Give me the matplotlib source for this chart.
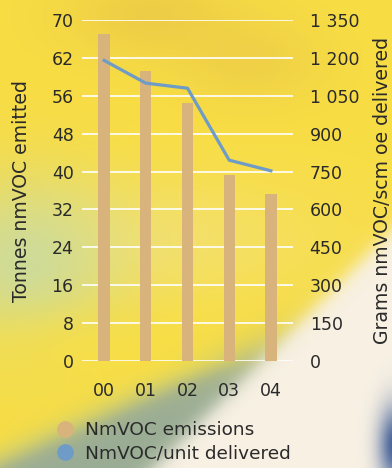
import numpy as np
import matplotlib
matplotlib.use('Agg')
import matplotlib.pyplot as plt
from matplotlib.lines import Line2D

# data
years = ['00', '01', '02', '03', '04']
emissions = [67.0, 60.0, 54.4, 39.3, 35.3]          # tonnes nmVOC
per_unit = [1190, 1100, 1080, 795, 753]              # grams nmVOC / scm oe
left_ticks = [0, 8, 16, 24, 32, 40, 48, 56, 62, 70]
right_ticks = [0, 150, 300, 450, 600, 750, 900, 1050, 1200, 1350]

bar_color = '#D8B37C'
line_color = '#6F9CC6'
text_color = '#2A2A2A'

W, H = 392, 468


def hex_rgb(h):
    h = h.lstrip('#')
    return np.array([int(h[i:i + 2], 16) for i in (0, 2, 4)]) / 255.0


def blend(img, color, a):
    a = np.clip(a, 0, 1)[..., None]
    return img * (1 - a) + hex_rgb(color) * a


def blob(x, y, cx, cy, sx, sy):
    return np.exp(-(((x - cx) / sx) ** 2 + ((y - cy) / sy) ** 2) / 2)


def sig(v):
    return 1 / (1 + np.exp(-v))


# soft photographic backdrop
yy, xx = np.mgrid[0:H, 0:W].astype(float)
bg = np.ones((H, W, 3)) * hex_rgb('#F8DD44')
bg = blend(bg, '#E3BE48', 0.5 * blob(xx, yy, 150, 15, 60, 30))
bg = blend(bg, '#E6C24A', 0.45 * blob(xx, yy, 250, 60, 50, 30))
bg = blend(bg, '#F2E389', 0.55 * blob(xx, yy, 150, 240, 130, 45))
bg = blend(bg, '#CADB9F', 0.9 * blob(xx, yy, 25, 265, 65, 60))
bg = blend(bg, '#F9DF45', 0.7 * blob(xx, yy, 110, 350, 110, 30))
# diagonal grey band and cream area in the lower right
s = ((xx - 245) + (yy - 380)) / 1.414
w = 25 + np.clip(yy - 360, 0, None) * 0.85
band = sig((s + w) / 9) * sig((yy - 350) / 15)
bg = blend(bg, '#C9D07C', 0.6 * sig((s + w + 25) / 10) * sig((yy - 350) / 15))
bg = blend(bg, '#93A89A', 0.9 * band)
bg = blend(bg, '#F8F1E4', sig((s + 3) / 5))
bg = blend(bg, '#2C4E8E', 0.9 * blob(xx, yy, 395, 445, 12, 28))

fig = plt.figure(figsize=(W / 100, H / 100), dpi=100)
bg_ax = fig.add_axes([0, 0, 1, 1], zorder=-1)
bg_ax.imshow(bg, aspect='auto', interpolation='bilinear')
bg_ax.axis('off')

ax = fig.add_axes([82 / W, 1 - 361 / H, 211 / W, 341 / H])
ax.patch.set_alpha(0)

# left axis labels are not evenly spaced in value, so map them onto equal steps
idx = np.arange(len(left_ticks), dtype=float)
ax.set_yscale('function', functions=(lambda v: np.interp(v, left_ticks, idx),
                                     lambda u: np.interp(u, idx, left_ticks)))
x = np.arange(len(years))
ax.bar(x, emissions, width=0.27, color=bar_color, zorder=3)
ax.set_ylim(0, 70)
ax.set_yticks(left_ticks)
ax.set_yticklabels([str(t) for t in left_ticks])
ax.set_xlim(-0.53, 4.53)
ax.set_xticks(x)
ax.set_xticklabels(years)
ax.yaxis.grid(True, color='white', linewidth=1.2, zorder=1)
ax.set_axisbelow(True)
for sp in ax.spines.values():
    sp.set_visible(False)
ax.tick_params(axis='y', length=0, pad=6, labelsize=12.5, labelcolor=text_color)
ax.tick_params(axis='x', length=0, pad=15, labelsize=12.5, labelcolor=text_color)
ax.set_ylabel('Tonnes nmVOC emitted', fontsize=13.6, color=text_color, labelpad=15)

ax2 = ax.twinx()
ax2.plot(x, per_unit, color=line_color, linewidth=2.3, zorder=4)
ax2.set_ylim(0, 1350)
ax2.set_yticks(right_ticks)
ax2.set_yticklabels([f'{t:,}'.replace(',', ' ') for t in right_ticks])
for sp in ax2.spines.values():
    sp.set_visible(False)
ax2.tick_params(axis='y', length=0, pad=12, labelsize=12.5, labelcolor=text_color)
ax2.set_ylabel('Grams nmVOC/scm oe delivered', fontsize=13.6, color=text_color, labelpad=10)

handles = [Line2D([], [], linestyle='none', marker='o', markersize=11, color=bar_color),
           Line2D([], [], linestyle='none', marker='o', markersize=11, color=line_color)]
fig.legend(handles, ['NmVOC emissions', 'NmVOC/unit delivered'],
           loc='upper left', bbox_to_anchor=(48 / W, 1 - 414 / H), frameon=False,
           fontsize=13.3, labelcolor=text_color, handlelength=1.0, handletextpad=0.6,
           labelspacing=0.3, borderaxespad=0)

fig.savefig('out.png', dpi=100)
